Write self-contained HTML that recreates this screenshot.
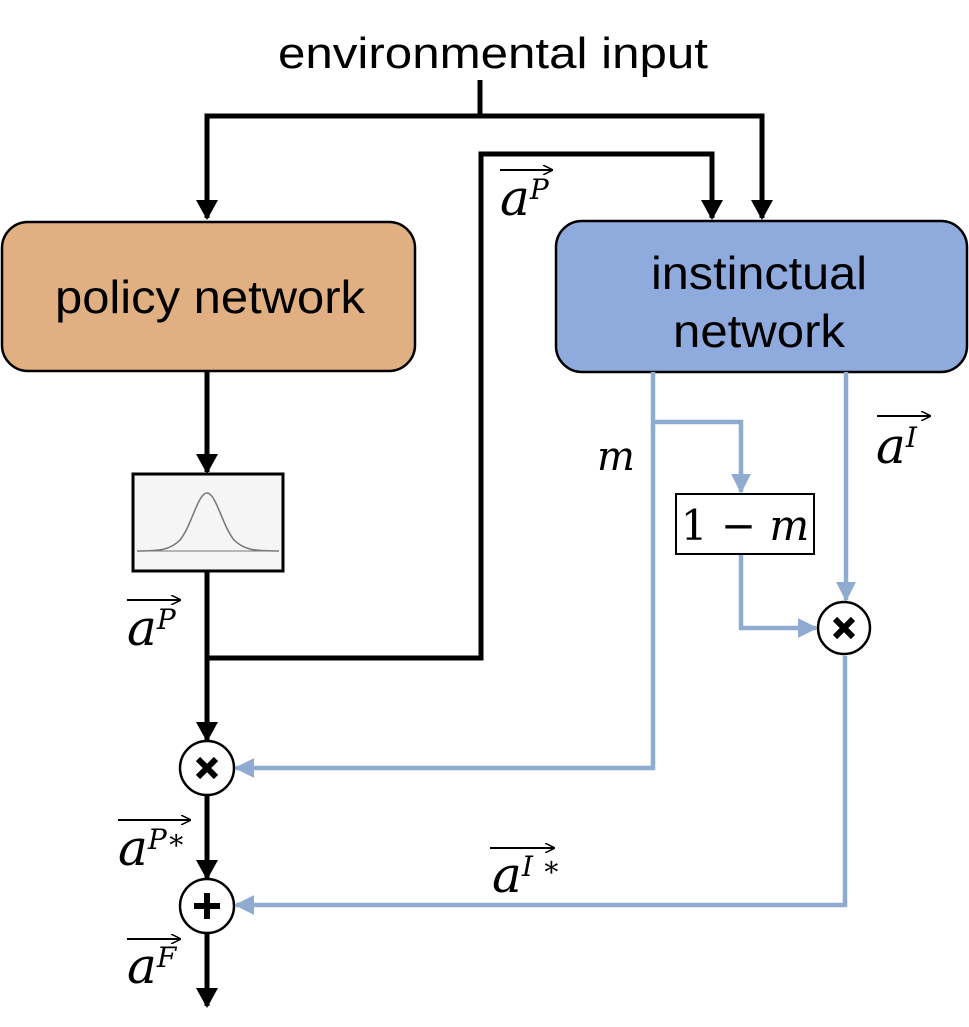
<!DOCTYPE html>
<html><head><meta charset="utf-8"><style>
html,body{margin:0;padding:0;background:#fff;}
svg{display:block;}
.m{font-family:"DejaVu Serif","Liberation Serif",serif;font-style:italic;fill:#000;}
.s{font-family:"Liberation Sans",sans-serif;fill:#000;}
</style></head><body>
<svg width="969" height="1027" viewBox="0 0 969 1027" xmlns="http://www.w3.org/2000/svg">
<defs>
<marker id="ab" markerWidth="4" markerHeight="4.4" refX="3.6" refY="2.2" orient="auto" markerUnits="strokeWidth"><path d="M0,0 L4,2.2 L0,4.4 z" fill="#000"/></marker>
<marker id="abl" markerWidth="4.4" markerHeight="4.4" refX="4" refY="2.2" orient="auto" markerUnits="strokeWidth"><path d="M0,0 L4.4,2.2 L0,4.4 z" fill="#8fabcf"/></marker>
<marker id="ar" markerWidth="10" markerHeight="10" refX="9" refY="5" orient="auto" markerUnits="userSpaceOnUse"><path d="M0,0 L10,5 L0,10" fill="none" stroke="#000" stroke-width="1.5"/></marker>
</defs>

<text x="493" y="68" class="s" font-size="44" text-anchor="middle" textLength="430" lengthAdjust="spacingAndGlyphs">environmental input</text>

<g stroke="#000" stroke-width="5" fill="none">
<line x1="480" y1="80" x2="480" y2="116"/>
<polyline points="207,116 762,116"/>
<line x1="207" y1="113.5" x2="207" y2="218" marker-end="url(#ab)"/>
<line x1="762" y1="113.5" x2="762" y2="218" marker-end="url(#ab)"/>
<polyline points="207,658 481,658 481,154 712,154 712,218" marker-end="url(#ab)"/>
<line x1="207" y1="372" x2="207" y2="472" marker-end="url(#ab)"/>
<line x1="207" y1="572" x2="207" y2="740" marker-end="url(#ab)"/>
<line x1="207" y1="795" x2="207" y2="878" marker-end="url(#ab)"/>
<line x1="207" y1="933" x2="207" y2="1006" marker-end="url(#ab)"/>
</g>

<rect x="2" y="222" width="413" height="149" rx="26" fill="#e0b083" stroke="#000" stroke-width="2.5"/>
<text x="210" y="313" class="s" font-size="46" text-anchor="middle" textLength="310" lengthAdjust="spacingAndGlyphs">policy network</text>
<rect x="556" y="221" width="411" height="151" rx="26" fill="#8faadc" stroke="#000" stroke-width="2.5"/>
<text x="759" y="289" class="s" font-size="46" text-anchor="middle" textLength="216" lengthAdjust="spacingAndGlyphs">instinctual</text>
<text x="759" y="347" class="s" font-size="46" text-anchor="middle" textLength="172" lengthAdjust="spacingAndGlyphs">network</text>

<rect x="133" y="474" width="150" height="97" fill="#f5f5f5" stroke="#000" stroke-width="3"/>
<line x1="137" y1="551" x2="279" y2="551" stroke="#777" stroke-width="1"/>
<path d="M137,551 C160,551 170,550 180,540 C192,525 198,493 207,493 C216,493 222,525 234,540 C244,550 254,551 279,551" fill="none" stroke="#777" stroke-width="1.5"/>

<g stroke="#8fabcf" stroke-width="4.5" fill="none">
<polyline points="653,372 653,768 236,768" marker-end="url(#abl)"/>
<polyline points="653,422 741,422 741,492" marker-end="url(#abl)"/>
<polyline points="741,555 741,628 816,628" marker-end="url(#abl)"/>
<line x1="846" y1="372" x2="846" y2="600" marker-end="url(#abl)"/>
<polyline points="845,656 845,905 236,905" marker-end="url(#abl)"/>
</g>

<rect x="676" y="494" width="138" height="60" fill="#fff" stroke="#000" stroke-width="2"/>
<text x="745" y="540" font-family="'DejaVu Serif','Liberation Serif',serif" font-size="42" text-anchor="middle">1 − <tspan font-style="italic">m</tspan></text>

<g stroke="#000" stroke-width="2.5" fill="#fff">
<circle cx="844" cy="628" r="26"/>
<circle cx="207" cy="768" r="27"/>
<circle cx="207" cy="906" r="27"/>
</g>
<g stroke="#000" stroke-width="6" stroke-linecap="butt">
<line x1="835" y1="619" x2="853" y2="637"/><line x1="853" y1="619" x2="835" y2="637"/>
<line x1="198" y1="759" x2="216" y2="777"/><line x1="216" y1="759" x2="198" y2="777"/>
<line x1="194" y1="906" x2="220" y2="906"/><line x1="207" y1="893" x2="207" y2="919"/>
</g>

<text x="597" y="470" class="m" font-size="40">m</text>

<g stroke="#000" stroke-width="2" fill="none">
<line x1="500" y1="170" x2="552" y2="170" marker-end="url(#ar)"/>
<line x1="877" y1="416" x2="930" y2="416" marker-end="url(#ar)"/>
<line x1="127" y1="600" x2="180" y2="600" marker-end="url(#ar)"/>
<line x1="118" y1="820" x2="190" y2="820" marker-end="url(#ar)"/>
<line x1="490" y1="848" x2="554" y2="848" marker-end="url(#ar)"/>
<line x1="127" y1="939" x2="180" y2="939" marker-end="url(#ar)"/>
</g>
<text x="500" y="215" class="m" font-size="50">a<tspan font-size="28" dy="-16">P</tspan></text>
<text x="876" y="463" class="m" font-size="50">a<tspan font-size="28" dy="-16">I</tspan></text>
<text x="127" y="645" class="m" font-size="50">a<tspan font-size="28" dy="-16">P</tspan></text>
<text x="118" y="865" class="m" font-size="50">a<tspan font-size="28" dy="-16">P</tspan><tspan font-size="28" font-style="normal">∗</tspan></text>
<text x="492" y="892" class="m" font-size="50">a<tspan font-size="28" dy="-16">I</tspan><tspan font-size="28" font-style="normal"> ∗</tspan></text>
<text x="127" y="983" class="m" font-size="50">a<tspan font-size="28" dy="-16">F</tspan></text>
</svg>
</body></html>
